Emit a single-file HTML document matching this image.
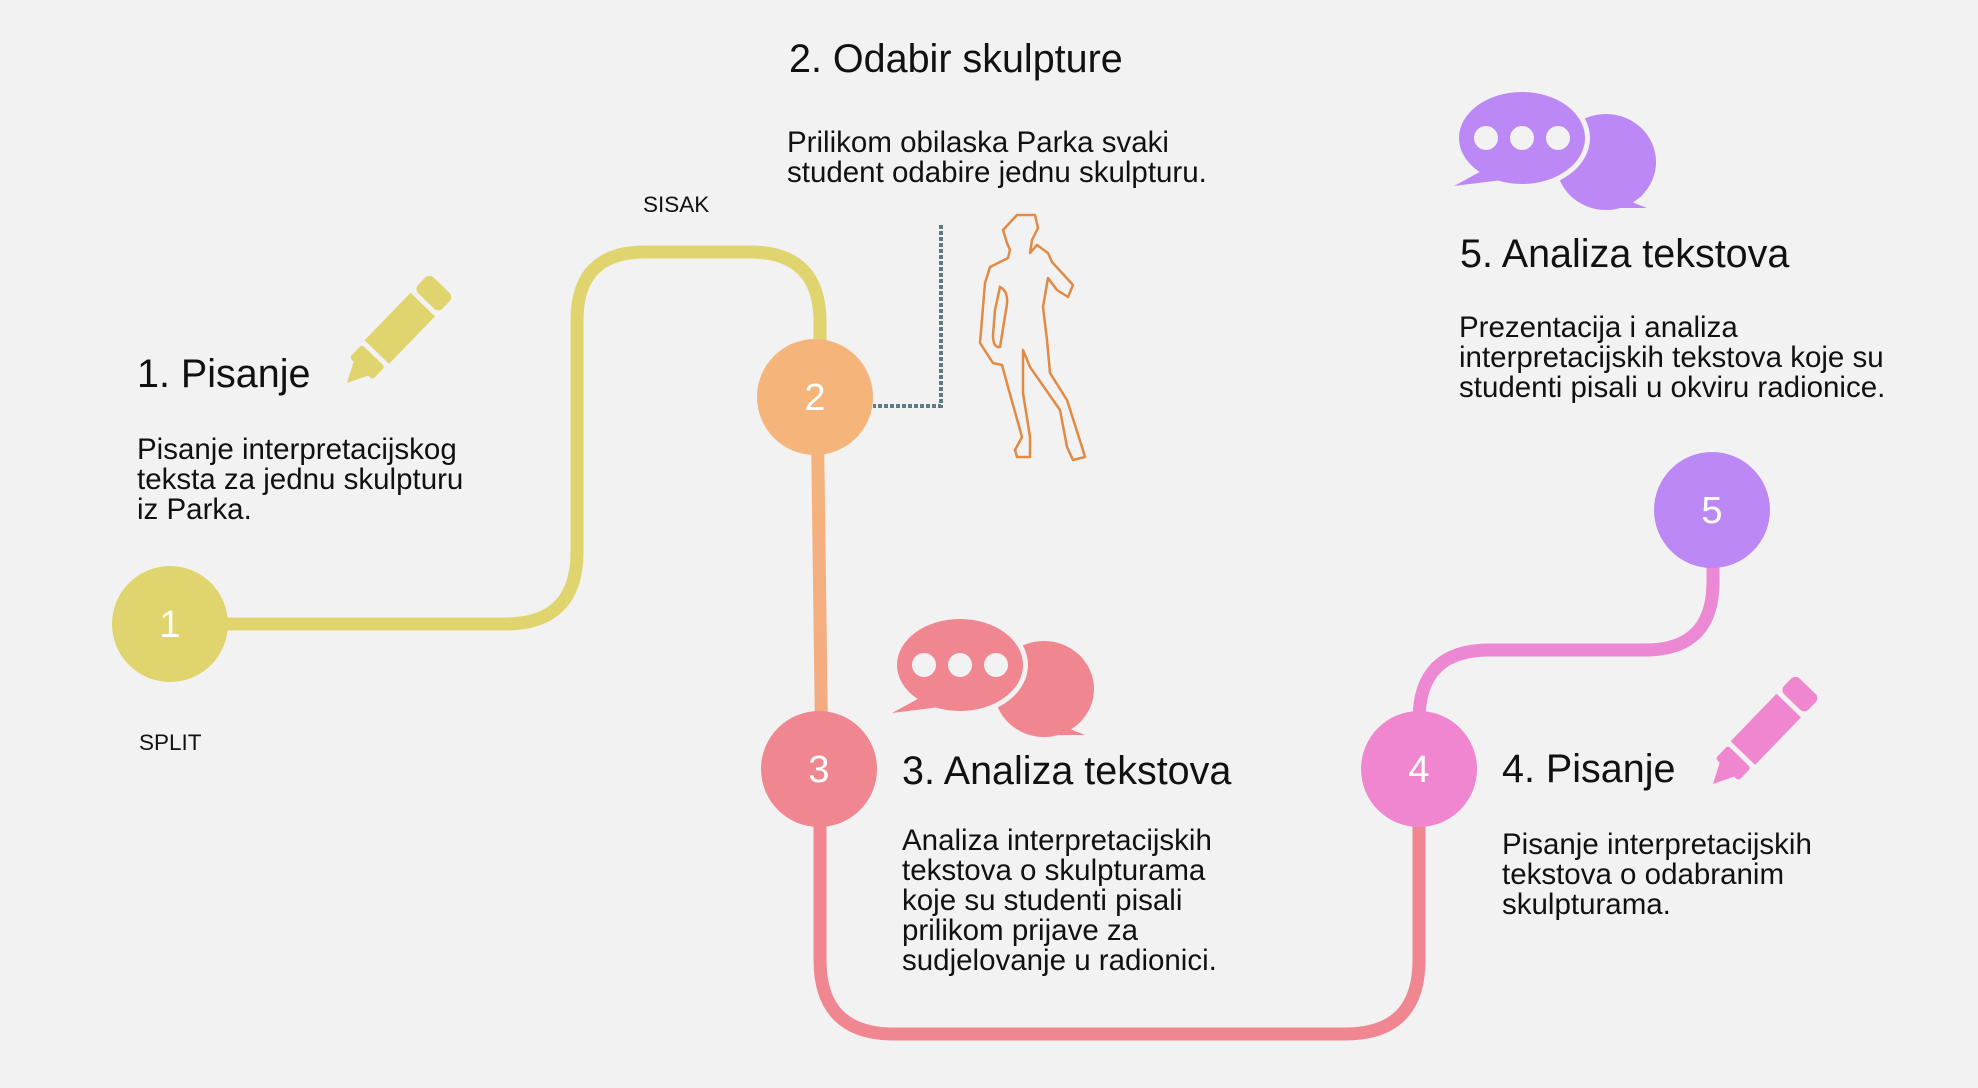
<!DOCTYPE html>
<html><head><meta charset="utf-8"><style>
html,body{margin:0;padding:0;background:#f2f2f2;}
svg{display:block;}
text{font-family:"Liberation Sans",Arial,sans-serif;fill:#111;}
</style></head><body>
<svg width="1978" height="1088" viewBox="0 0 1978 1088" xmlns="http://www.w3.org/2000/svg">
<defs>
<linearGradient id="g23" x1="0" y1="0" x2="0" y2="1"><stop offset="0" stop-color="#f5b57a"/><stop offset="1" stop-color="#f3a984"/></linearGradient>
<linearGradient id="g45" x1="0" y1="1" x2="0" y2="0"><stop offset="0" stop-color="#ef86cf"/><stop offset="1" stop-color="#e98ad8"/></linearGradient>
<g id="pencil">
<path d="M0,0 L26,-13 L26,13 Z"/>
<rect x="20" y="-16" width="18" height="32" rx="3"/>
<rect x="43" y="-17" width="66" height="34"/>
<rect x="114" y="-17" width="22" height="34" rx="6"/>
</g>
<g id="bubble">
<ellipse cx="84" cy="24" rx="50" ry="48"/>
<path d="M100,60 L125,70 L80,70 Z"/>
<ellipse cx="0" cy="0" rx="68" ry="51" fill="#f2f2f2"/>
<ellipse cx="0" cy="0" rx="63" ry="46"/>
<path d="M-35,30 L-68,48 L-20,42 Z"/>
<circle cx="-36" cy="0" r="12" fill="#f2f2f2"/>
<circle cx="0" cy="0" r="12" fill="#f2f2f2"/>
<circle cx="36" cy="0" r="12" fill="#f2f2f2"/>
</g>
</defs>

<path d="M170,624 H505 Q577,624 577,552 V320 Q577,252 645,252 H750 Q820,252 820,322 V397" fill="none" stroke="#e0d46e" stroke-width="13"/>
<path d="M817,397 L822,769" fill="none" stroke="url(#g23)" stroke-width="13"/>
<path d="M820,769 V960 Q820,1034 894,1034 H1345 Q1419,1034 1419,960 V769" fill="none" stroke="#f0868f" stroke-width="13"/>
<path d="M1419,769 V720 Q1419,650 1489,650 H1645 Q1713,650 1713,582 V510" fill="none" stroke="url(#g45)" stroke-width="13"/>

<path d="M941,225 V406 H873" fill="none" stroke="#5f7a82" stroke-width="4" stroke-dasharray="4,2"/>

<circle cx="170" cy="624" r="58" fill="#e0d46e"/>
<circle cx="815" cy="397" r="58" fill="#f5b57a"/>
<circle cx="819" cy="769" r="58" fill="#f0868f"/>
<circle cx="1419" cy="769" r="58" fill="#ef86cf"/>
<circle cx="1712" cy="510" r="58" fill="#bb88f5"/>
<g font-size="38" text-anchor="middle">
<text x="170" y="637" style="fill:#fff">1</text>
<text x="815" y="410" style="fill:#fff">2</text>
<text x="819" y="782" style="fill:#fff">3</text>
<text x="1419" y="782" style="fill:#fff">4</text>
<text x="1712" y="523" style="fill:#fff">5</text>
</g>

<g fill="#e0d46e" transform="translate(347,383) rotate(-46)"><use href="#pencil"/></g>
<g fill="#ef86cf" transform="translate(1713,784) rotate(-46)"><use href="#pencil"/></g>
<g fill="#bb88f5" transform="translate(1522,138)"><use href="#bubble"/></g>
<g fill="#f0868f" transform="translate(960,665)"><use href="#bubble"/></g>

<path d="M1017,215 L1003,230 L1007,243 L1010,250 L1008,258 L990,267 L985,283 L983,307 L980,343 L993,363 L1002,365 L1008,387 L1022,437 L1015,450 L1017,457 L1030,457 L1030,437 L1023,393 L1023,350 L1030,367 L1060,410 L1067,447 L1073,460 L1085,457 L1082,447 L1067,400 L1050,373 L1047,340 L1043,307 L1048,278 L1057,290 L1068,297 L1073,285 L1052,262 L1048,253 L1037,245 L1030,253 L1032,240 L1038,228 L1035,215 Z" fill="none" stroke="#e08a45" stroke-width="2.5" stroke-linejoin="round"/>
<path d="M1000,287 Q1010,292 1006,310 L1000,347 Q993,348 993,335 L995,310 Z" fill="none" stroke="#e08a45" stroke-width="2.5"/>

<text x="789" y="72" font-size="39.5">2. Odabir skulpture</text>
<g font-size="29.5">
<text x="787" y="152">Prilikom obilaska Parka svaki</text>
<text x="787" y="182">student odabire jednu skulpturu.</text>
</g>
<text x="643" y="212" font-size="22.5">SISAK</text>

<text x="137" y="387" font-size="39.5">1. Pisanje</text>
<g font-size="29.5">
<text x="137" y="459">Pisanje interpretacijskog</text>
<text x="137" y="489">teksta za jednu skulpturu</text>
<text x="137" y="519">iz Parka.</text>
</g>
<text x="139" y="750" font-size="22.5">SPLIT</text>

<text x="1460" y="267" font-size="39.5">5. Analiza tekstova</text>
<g font-size="29.5">
<text x="1459" y="337">Prezentacija i analiza</text>
<text x="1459" y="367">interpretacijskih tekstova koje su</text>
<text x="1459" y="397">studenti pisali u okviru radionice.</text>
</g>

<text x="902" y="784" font-size="39.5">3. Analiza tekstova</text>
<g font-size="29.5">
<text x="902" y="850">Analiza interpretacijskih</text>
<text x="902" y="880">tekstova o skulpturama</text>
<text x="902" y="910">koje su studenti pisali</text>
<text x="902" y="940">prilikom prijave za</text>
<text x="902" y="970">sudjelovanje u radionici.</text>
</g>

<text x="1502" y="782" font-size="39.5">4. Pisanje</text>
<g font-size="29.5">
<text x="1502" y="854">Pisanje interpretacijskih</text>
<text x="1502" y="884">tekstova o odabranim</text>
<text x="1502" y="914">skulpturama.</text>
</g>
</svg>
</body></html>
